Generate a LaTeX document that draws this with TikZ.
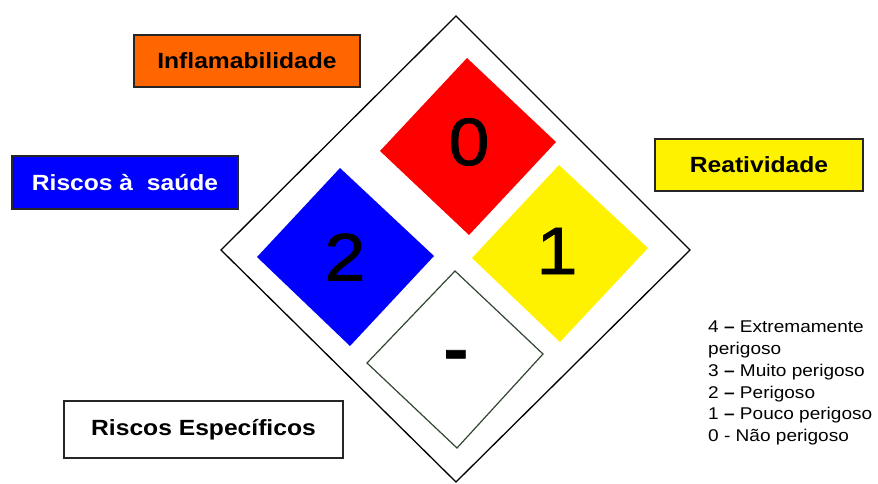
\documentclass[tikz,border=0pt]{standalone}
\usepackage{fontspec}
\setmainfont[FakeStretch=1.12]{Liberation Sans}
\newfontfamily\digitfont[FakeStretch=1.1, FakeBold=1.2]{Liberation Sans}
\definecolor{flamorange}{RGB}{255,102,0}
\definecolor{specborder}{RGB}{50,70,50}
\tikzset{
  labelbox/.style={draw=black!85, line width=1.8pt, inner sep=0pt,
    font=\fontsize{22}{26}\selectfont\bfseries},
  hazardnum/.style={font=\digitfont\fontsize{67}{70}\selectfont},
}
\newcommand{\ndash}{\textbf{--}}
\begin{document}
\begin{tikzpicture}[x=1pt,y=-1pt]
      \useasboundingbox (0,0) rectangle (878,483);

      % outer diamond
      \draw[line width=1.3pt] (456,16) -- (690,250) -- (456,482) -- (221,250) -- cycle;

      % hazard fields
      \fill[red] (467,58) -- (556,142) -- (469,235) -- (380,151) -- cycle;
      \fill[blue] (340,168) -- (434,256) -- (350,346) -- (257,257) -- cycle;
      \fill[yellow] (559,165) -- (648,248) -- (560,342) -- (472,258) -- cycle;
      \draw[specborder, line width=1.2pt] (455,271) -- (543,354) -- (457,448) -- (367,363) -- cycle;

      \node[hazardnum] (F) at (469,142) {0};
      \node[hazardnum] (H) at (345,257) {2};
      \node[hazardnum] (R) at (557,251) {1};
      \node[hazardnum] (S) at (456,361) {\bfseries -};

      % labels
      \node[labelbox, fill=flamorange, minimum width=226pt, minimum height=52pt] (FL) at (247,61) {Inflamabilidade};
      \node[labelbox, fill=blue, text=white, minimum width=226pt, minimum height=53pt] (HL) at (125,182.5) {Riscos à\ \ saúde};
      \node[labelbox, fill=yellow, minimum width=208pt, minimum height=52pt] (RL) at (759,165) {Reatividade};
      \node[labelbox, fill=white, minimum width=279pt, minimum height=57pt] (SL) at (203.5,429.5) {Riscos Específicos};

      % scale
      \node[anchor=north west, inner sep=0pt, align=left,
        font=\fontsize{17}{21.7}\selectfont] (K) at (708,321)
        {4 \ndash{} Extremamente\\perigoso\\3 \ndash{} Muito perigoso\\2 \ndash{} Perigoso\\1 \ndash{} Pouco perigoso\\0 - Não perigoso};
    \end{tikzpicture}
\end{document}
